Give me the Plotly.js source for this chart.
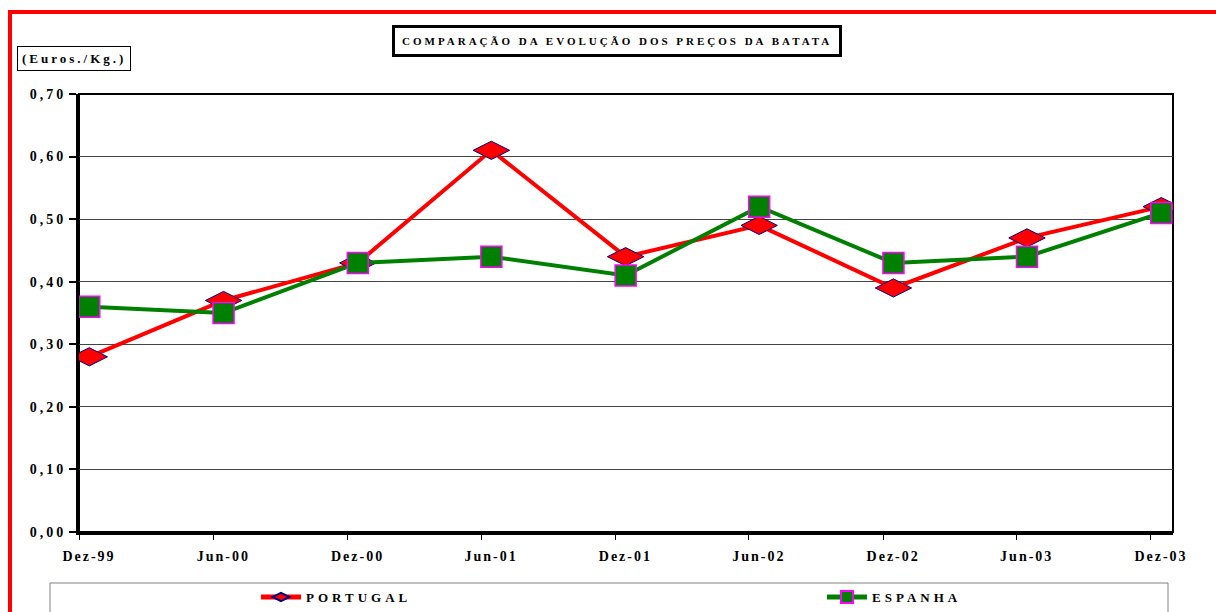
<!DOCTYPE html>
<html>
<head>
<meta charset="utf-8">
<script src="https://cdn.plot.ly/plotly-3.0.1.min.js"></script>
<style>
  html, body { margin: 0; padding: 0; background: #fff; }
  #chart { width: 1216px; height: 612px; }
  svg text { letter-spacing: 2px; }
  .xtick text { letter-spacing: 2px; }
  .ytick text { letter-spacing: 3px; }
  text.legendtext, g[class*="legend"] text { letter-spacing: 4px; }
  .annotation-text { letter-spacing: 3px; }
</style>
</head>
<body>
<div id="chart"></div>
<script>
// ---- data ----
const periodLabels = ['Dez-99', 'Jun-00', 'Dez-00', 'Jun-01', 'Dez-01', 'Jun-02', 'Dez-02', 'Jun-03', 'Dez-03'];
const periodDates  = ['1999-12-15', '2000-06-15', '2000-12-15', '2001-06-15', '2001-12-15', '2002-06-15', '2002-12-15', '2003-06-15', '2003-12-15'];
const tickDates    = ['1999-12-01', '2000-06-01', '2000-12-01', '2001-06-01', '2001-12-01', '2002-06-01', '2002-12-01', '2003-06-01', '2003-12-01'];
const portugal = [0.28, 0.37, 0.43, 0.61, 0.44, 0.49, 0.39, 0.47, 0.52];
const espanha  = [0.36, 0.35, 0.43, 0.44, 0.41, 0.52, 0.43, 0.44, 0.51];
const chartTitle = 'COMPARAÇÃO DA EVOLUÇÃO DOS PREÇOS DA BATATA';
const yUnit = '(Euros./Kg.)';

const serif = 'Liberation Serif';
const boldFont = (size) => ({ family: serif, size: size, color: '#000', weight: 700 });

const traces = [
  {
    name: 'PORTUGAL', x: periodDates, y: portugal, type: 'scatter', mode: 'lines+markers',
    line: { color: '#ff0000', width: 4 },
    marker: { symbol: 'diamond-wide', size: 26, color: '#ff0000', line: { color: '#000080', width: 1 } },
    legend: 'legend'
  },
  {
    name: 'ESPANHA', x: periodDates, y: espanha, type: 'scatter', mode: 'lines+markers',
    line: { color: '#008000', width: 4 },
    marker: { symbol: 'square', size: 21, color: '#008000', line: { color: '#ff00ff', width: 1.5 } },
    legend: 'legend2'
  }
];

const L = 79, R = 1173, T = 94, B = 532, W = 1216, H = 612;
const pw = R - L, ph = B - T;
const px = (x) => (x - L) / pw;
const py = (y) => (B - y) / ph;

const legendBase = {
  orientation: 'h', xanchor: 'left', y: py(597), yanchor: 'middle',
  bgcolor: 'rgba(0,0,0,0)', borderwidth: 0, itemwidth: 40, itemsizing: 'constant',
  entrywidth: 220, entrywidthmode: 'pixels',
  font: boldFont(13)
};

const layout = {
  width: W, height: H,
  margin: { l: L, r: W - R, t: T, b: H - B, pad: 0, autoexpand: false },
  paper_bgcolor: '#fff', plot_bgcolor: '#fff',
  separators: ',.',
  showlegend: true,
  font: boldFont(13),
  xaxis: {
    type: 'date',
    range: ['1999-12-01', '2003-12-31'],
    tickmode: 'array', tickvals: tickDates, ticktext: periodLabels,
    ticks: 'outside', ticklen: 5, tickwidth: 1, tickcolor: '#000',
    ticklabelshift: 10, ticklabelstandoff: 5,
    showgrid: false, zeroline: false,
    showline: true, linecolor: '#000', linewidth: 2.5,
    tickfont: boldFont(14), fixedrange: true, automargin: false
  },
  yaxis: {
    range: [0, 0.70],
    tickmode: 'linear', tick0: 0, dtick: 0.1, tickformat: '.2f',
    ticks: 'outside', ticklen: 7, tickwidth: 2, tickcolor: '#000',
    showgrid: true, gridcolor: '#444', gridwidth: 1,
    zeroline: false,
    showline: true, linecolor: '#000', linewidth: 3,
    tickfont: boldFont(14), fixedrange: true, automargin: false
  },
  legend: Object.assign({}, legendBase, { x: px(256) }),
  legend2: Object.assign({}, legendBase, { x: px(822) }),
  shapes: [
    { type: 'rect', xref: 'paper', yref: 'paper', x0: 0, x1: 1, y0: 0, y1: 1,
      line: { color: '#000', width: 2 }, layer: 'below' },
    { type: 'rect', xref: 'paper', yref: 'paper', x0: px(50), x1: px(1168), y0: py(583), y1: py(640),
      line: { color: '#808080', width: 1 }, fillcolor: 'rgba(0,0,0,0)' },
    { type: 'rect', xref: 'paper', yref: 'paper', x0: px(10), x1: px(1240), y0: py(660), y1: py(12),
      line: { color: '#ff0000', width: 4 }, fillcolor: 'rgba(0,0,0,0)' }
  ],
  annotations: [
    { text: chartTitle, xref: 'paper', yref: 'paper', x: px(617), y: py(41),
      xanchor: 'center', yanchor: 'middle', showarrow: false,
      font: boldFont(11), bordercolor: '#000', borderwidth: 3, borderpad: 7, bgcolor: '#fff' },
    { text: yUnit, xref: 'paper', yref: 'paper', x: px(73.5), y: py(58.5),
      xanchor: 'center', yanchor: 'middle', showarrow: false,
      font: boldFont(13), bordercolor: '#000', borderwidth: 1, borderpad: 4, bgcolor: '#fff' }
  ]
};

Plotly.newPlot('chart', traces, layout, { displayModeBar: false, staticPlot: true });
</script>
</body>
</html>
